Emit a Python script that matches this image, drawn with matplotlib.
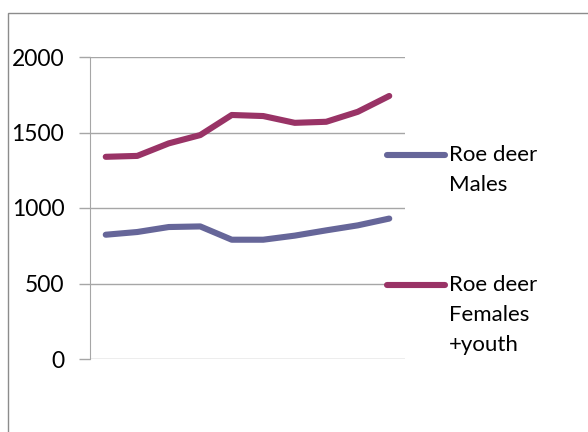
import matplotlib
matplotlib.use('agg')
import matplotlib.pyplot as plt
from matplotlib.lines import Line2D
from matplotlib.patches import Rectangle

# values (10 periods, no category labels)
periods = list(range(1, 11))
males = [823, 841, 874, 878, 790, 790, 817, 852, 885, 930]
females = [1339, 1345, 1428, 1483, 1616, 1609, 1564, 1571, 1637, 1742]
names = ['Roe deer\nMales', 'Roe deer\nFemales\n+youth']
colors = ['#666699', '#993366']
yticks = [0, 500, 1000, 1500, 2000]

W, H = 588, 432
plt.rcParams['font.family'] = ['Lato', 'DejaVu Sans']
fig = plt.figure(figsize=(W / 100, H / 100), dpi=100)

# outer chart border (runs off the right and bottom edges)
fig.add_artist(Rectangle((7.5 / W, -0.1), 1.2, 1 - 13.5 / H + 0.1,
                         transform=fig.transFigure, fill=False,
                         edgecolor='#8c8c8c', linewidth=1.0))

ax = fig.add_axes([90 / W, 1 - 359 / H, 315 / W, 302 / H])
lines = []
for vals, c in zip([males, females], colors):
    l, = ax.plot(periods, vals, color=c, linewidth=4.4,
                 solid_capstyle='round', solid_joinstyle='round')
    lines.append(l)

ax.set_xlim(0.5, 10.5)
ax.set_ylim(0, 2000)
ax.set_yticks(yticks)
ax.set_xticks([])
ax.yaxis.grid(True, color='#a6a6a6', linewidth=1.0)
ax.set_axisbelow(True)
for s in ['top', 'right', 'bottom']:
    ax.spines[s].set_visible(False)
ax.spines['left'].set_color('#a6a6a6')
ax.tick_params(axis='y', length=8, width=1.0, color='#a6a6a6',
               labelsize=16.5, pad=10.5)

# legend on the right, handle beside the first text line
leg_y = [155, 285]
for l, name, yy in zip(lines, names, leg_y):
    fig.add_artist(Line2D([387 / W, 445 / W], [1 - yy / H, 1 - yy / H],
                          transform=fig.transFigure, color=l.get_color(),
                          linewidth=4.4, solid_capstyle='round'))
    fig.text(449 / W, 1 - (yy - 10) / H, name, fontsize=16,
             va='top', ha='left', linespacing=1.62)

fig.savefig('out.png', dpi=100)
